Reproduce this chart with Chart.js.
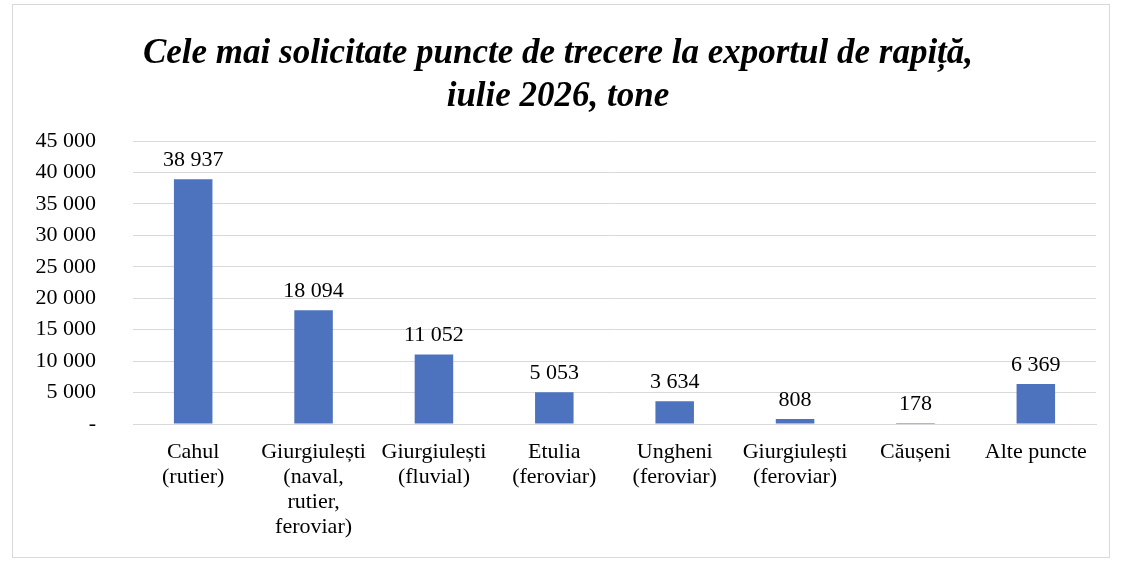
<!DOCTYPE html>
<html>
<head>
<meta charset="utf-8">
<script src="https://cdn.jsdelivr.net/npm/chart.js@4"></script>
<style>
    body { margin: 0; background: #fff; }
    #cadru { position: absolute; left: 12px; top: 4px; width: 1096px; height: 552px; border: 1px solid #d9d9d9; }
    #ChartDiv { position: absolute; left: 0; top: 0; width: 1138px; height: 570px; }
</style>
</head>
<body>
<div id="cadru"></div>
<div id="ChartDiv"><canvas id="RapitaChart" width="1138" height="570"></canvas></div>
<script>
/*Date*/
const puncte = [
    ['Cahul', '(rutier)'],
    ['Giurgiulești', '(naval,', 'rutier,', 'feroviar)'],
    ['Giurgiulești', '(fluvial)'],
    ['Etulia', '(feroviar)'],
    ['Ungheni', '(feroviar)'],
    ['Giurgiulești', '(feroviar)'],
    ['Căușeni'],
    ['Alte puncte']
]
const tone = [38937, 18094, 11052, 5053, 3634, 808, 178, 6369]
const titlu = ['Cele mai solicitate puncte de trecere la exportul de rapiță,', 'iulie 2026, tone']

const serif = "'Liberation Serif', 'Times New Roman', serif"

/*Formateaza numarul cu spatiu intre mii*/
function spatiu(n) {
    return String(n).replace(/\B(?=(\d{3})+(?!\d))/g, ' ')
}

/*Scrie valorile deasupra barelor*/
const etichete = {
    id: 'etichete',
    afterDatasetsDraw(chart) {
        const ctx = chart.ctx
        const meta = chart.getDatasetMeta(0)
        ctx.save()
        ctx.font = '22px ' + serif
        ctx.fillStyle = '#000'
        ctx.textAlign = 'center'
        ctx.textBaseline = 'bottom'
        meta.data.forEach((bar, i) => {
            ctx.fillText(spatiu(tone[i]), bar.x, bar.y - 8)
        })
        ctx.restore()
    }
}

const ctx = document.getElementById('RapitaChart').getContext('2d')
new Chart(ctx, {
    type: 'bar',
    data: {
        labels: puncte,
        datasets: [{
            data: tone,
            backgroundColor: '#4e73be',
            borderWidth: 0,
            barPercentage: 0.32,
            categoryPercentage: 1
        }]
    },
    options: {
        responsive: false,
        animation: false,
        devicePixelRatio: 1,
        layout: { padding: { left: 20, right: 42, top: 0, bottom: 0 } },
        plugins: {
            legend: { display: false },
            tooltip: { enabled: false },
            title: {
                display: true,
                text: titlu,
                color: '#000',
                font: { family: serif, size: 35, weight: 'bold', style: 'italic', lineHeight: 1.23 },
                padding: { top: 32, bottom: 23 }
            }
        },
        scales: {
            x: {
                grid: { display: false },
                border: { color: '#d9d9d9' },
                ticks: {
                    color: '#000',
                    maxRotation: 0,
                    autoSkip: false,
                    padding: 8,
                    font: { family: serif, size: 22, lineHeight: 1.13 }
                },
                afterFit(scale) { scale.height = 146 }
            },
            y: {
                min: 0,
                max: 45000,
                grid: { color: '#d9d9d9', drawTicks: false },
                border: { display: false },
                ticks: {
                    stepSize: 5000,
                    color: '#000',
                    padding: 37,
                    font: { family: serif, size: 22 },
                    callback: (v) => v == 0 ? '-' : spatiu(v)
                },
                afterFit(scale) { scale.width = 113 }
            }
        }
    },
    plugins: [etichete]
})
</script>
</body>
</html>
